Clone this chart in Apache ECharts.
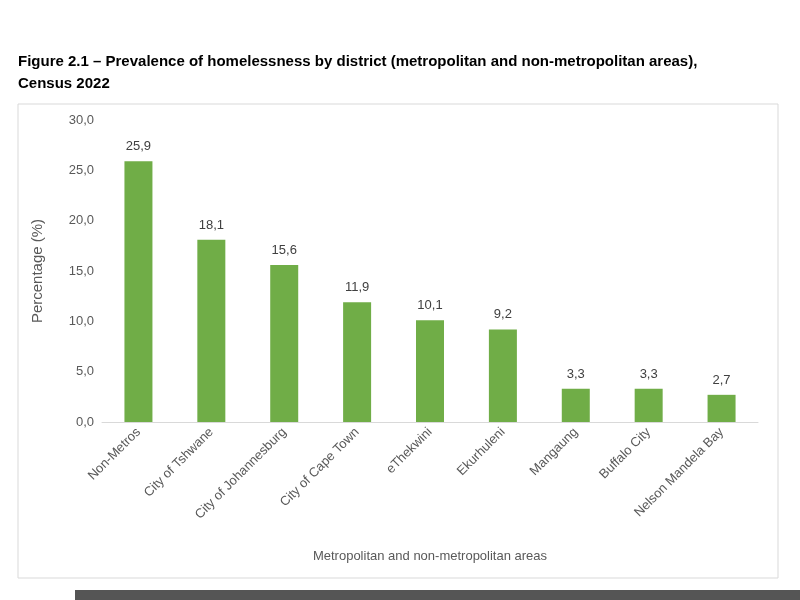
<!DOCTYPE html>
<html><head><meta charset="utf-8">
<script src="https://cdn.jsdelivr.net/npm/echarts@6/dist/echarts.min.js"></script>
<style>html,body{margin:0;background:#fff}#c{width:800px;height:600px}</style>
</head><body><div id="c"></div>
<script>
const categories = ["Non-Metros","City of Tshwane","City of Johannesburg","City of Cape Town","eThekwini","Ekurhuleni","Mangaung","Buffalo City","Nelson Mandela Bay"];
const values = [25.9,18.1,15.6,11.9,10.1,9.2,3.3,3.3,2.7];
const fmt = v => v.toFixed(1).replace('.', ',');
const chart = echarts.init(document.getElementById('c'));
chart.setOption({
  animation:false,
  graphic:[
    {type:'rect',shape:{x:18,y:104,width:760,height:474},style:{fill:'none',stroke:'#d9d9d9',lineWidth:1}},
    {type:'rect',shape:{x:75,y:590,width:725,height:10},style:{fill:'#555'}}
  ],
  title:{text:'Figure 2.1 – Prevalence of homelessness by district (metropolitan and non-metropolitan areas),\nCensus 2022',left:13,top:46,textStyle:{fontFamily:'Liberation Sans',fontSize:15,fontWeight:'bold',color:'#000',lineHeight:22}},
  grid:{left:102,right:42,top:120,bottom:178},
  xAxis:{type:'category',data:categories,name:'Metropolitan and non-metropolitan areas',nameLocation:'middle',nameGap:128,
    nameTextStyle:{fontFamily:'Liberation Sans',fontSize:13,color:'#595959'},
    axisLine:{lineStyle:{color:'#d9d9d9'}},axisTick:{show:false},
    axisLabel:{rotate:45,interval:0,fontFamily:'Liberation Sans',fontSize:13,color:'#595959'}},
  yAxis:{type:'value',min:0,max:30,interval:5,name:'Percentage (%)',nameLocation:'middle',nameGap:57,
    nameTextStyle:{fontFamily:'Liberation Sans',fontSize:15,color:'#595959'},
    splitLine:{show:false},axisLine:{show:false},
    axisLabel:{formatter:fmt,fontFamily:'Liberation Sans',fontSize:13,color:'#595959'}},
  series:[{type:'bar',data:values,barWidth:28,itemStyle:{color:'#70ad47'},
    label:{show:true,position:'top',distance:8,formatter:p=>fmt(p.value),fontFamily:'Liberation Sans',fontSize:13,color:'#404040'}}]
});
</script></body></html>
